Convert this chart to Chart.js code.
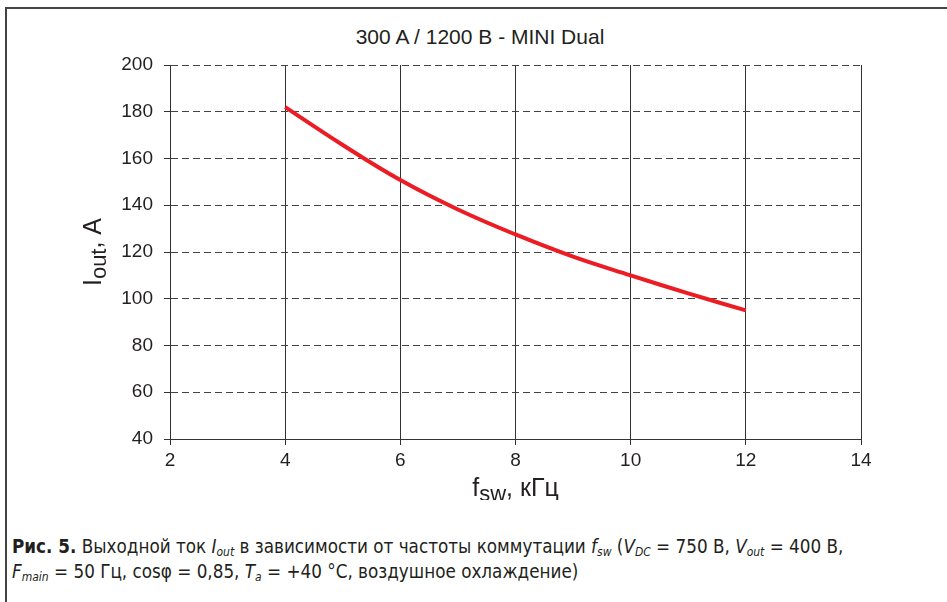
<!DOCTYPE html>
<html>
<head>
<meta charset="utf-8">
<script src="https://cdn.jsdelivr.net/npm/chart.js@4/dist/chart.umd.min.js"></script>
<style>
    body { margin: 0; background: #fff; width: 947px; height: 602px; overflow: hidden; position: relative; }
    #frame { position: absolute; left: 5px; top: 7px; width: 960px; height: 620px; border-left: 2px solid #444; border-top: 2px solid #444; }
    #wrap { position: absolute; left: 0; top: 0; width: 947px; height: 500px; }
    #title { position: absolute; left: 0; width: 960px; top: 25px; text-align: center; font: 21px "Liberation Sans", Arial, sans-serif; color: #231f20; }
    #caption { position: absolute; left: 12px; top: 534px; font: 18.7px "DejaVu Sans Condensed", "Liberation Sans Narrow", sans-serif; color: #231f20; line-height: 25px; }
    #caption b { font-weight: bold; }
    sub { font-size: 12px; vertical-align: -3px; line-height: 0; }
</style>
</head>
<body>
<div id="frame"></div>
<div id="title">300 A / 1200 B - MINI Dual</div>
<div id="wrap"><canvas id="c" width="947" height="500"></canvas></div>
<div id="caption">
    <b>Рис. 5.</b> Выходной ток <i>I</i><sub><i>out</i></sub> в зависимости от частоты коммутации <i>f</i><sub><i>sw</i></sub> (<i>V</i><sub><i>DC</i></sub> = 750 В, <i>V</i><sub><i>out</i></sub> = 400 В,<br>
    <i>F</i><sub><i>main</i></sub> = 50 Гц, cosφ = 0,85, <i>T</i><sub><i>a</i></sub> = +40 °C, воздушное охлаждение)
</div>
<script>
// данные кривой
const fsw = [4, 5, 6, 7, 8, 9, 10, 11, 12];
const iout = [182, 165.8, 150.8, 138.2, 127.5, 118, 110, 102.3, 95];

const xTicks = [2, 4, 6, 8, 10, 12, 14];
const yTicks = [40, 60, 80, 100, 120, 140, 160, 180, 200];

const textColor = "#231f20";

// подписи осей с индексами
const axisTitles = {
    id: "axisTitles",
    afterDraw(chart) {
        const ctx = chart.ctx;
        const area = chart.chartArea;
        ctx.save();
        ctx.fillStyle = textColor;
        ctx.textBaseline = "alphabetic";

        // ось X: f_sw, кГц
        const big = '25px "Liberation Sans", Arial, sans-serif';
        const small = '22px "Liberation Sans", Arial, sans-serif';
        ctx.font = big;
        const w1 = ctx.measureText("f").width;
        const w3 = ctx.measureText(", кГц").width;
        ctx.font = small;
        const w2 = ctx.measureText("sw").width;
        let x = (area.left + area.right) / 2 - (w1 + w2 + w3) / 2;
        const y = 496;
        ctx.font = big;
        ctx.fillText("f", x, y);
        ctx.font = small;
        ctx.fillText("sw", x + w1, y + 5);
        ctx.font = big;
        ctx.fillText(", кГц", x + w1 + w2, y);

        // ось Y: I_out, A
        ctx.translate(101, (area.top + area.bottom) / 2);
        ctx.rotate(-Math.PI / 2);
        ctx.font = big;
        const v1 = ctx.measureText("I").width;
        const v3 = ctx.measureText(", A").width;
        ctx.font = small;
        const v2 = ctx.measureText("out").width;
        let sx = -(v1 + v2 + v3) / 2;
        ctx.font = big;
        ctx.fillText("I", sx, 0);
        ctx.font = small;
        ctx.fillText("out", sx + v1, 5);
        ctx.font = big;
        ctx.fillText(", A", sx + v1 + v2, 0);
        ctx.restore();
    }
};

new Chart(document.getElementById("c"), {
    type: "line",
    data: {
        datasets: [{
            data: fsw.map((v, i) => ({ x: v, y: iout[i] })),
            borderColor: "#ec1c24",
            borderWidth: 4,
            pointRadius: 0,
            tension: 0.4,
            fill: false
        }]
    },
    options: {
        responsive: false,
        animation: false,
        layout: { padding: { top: 65, right: 86, left: 0, bottom: 0 } },
        plugins: { legend: { display: false }, tooltip: { enabled: false } },
        scales: {
            x: {
                type: "linear",
                min: 2, max: 14,
                afterBuildTicks: s => { s.ticks = xTicks.map(v => ({ value: v })); },
                afterFit: s => { s.height = 61; },
                ticks: { color: textColor, font: { size: 19, family: '"Liberation Sans", Arial' }, padding: 4, maxRotation: 0 },
                grid: { color: "#333", lineWidth: 1, tickLength: 6, tickColor: "#333" },
                border: { color: "#333", width: 1 }
            },
            y: {
                min: 40, max: 200,
                afterBuildTicks: s => { s.ticks = yTicks.map(v => ({ value: v })); },
                afterFit: s => { s.width = 170; },
                ticks: { color: textColor, font: { size: 19, family: '"Liberation Sans", Arial' }, padding: 11 },
                grid: { color: "#444", lineWidth: 1, tickLength: 6, tickColor: "#333", tickBorderDash: [1, 0] },
                border: { color: "#333", width: 1, dash: [7, 4] }
            }
        }
    },
    plugins: [axisTitles]
});
</script>
</body>
</html>
